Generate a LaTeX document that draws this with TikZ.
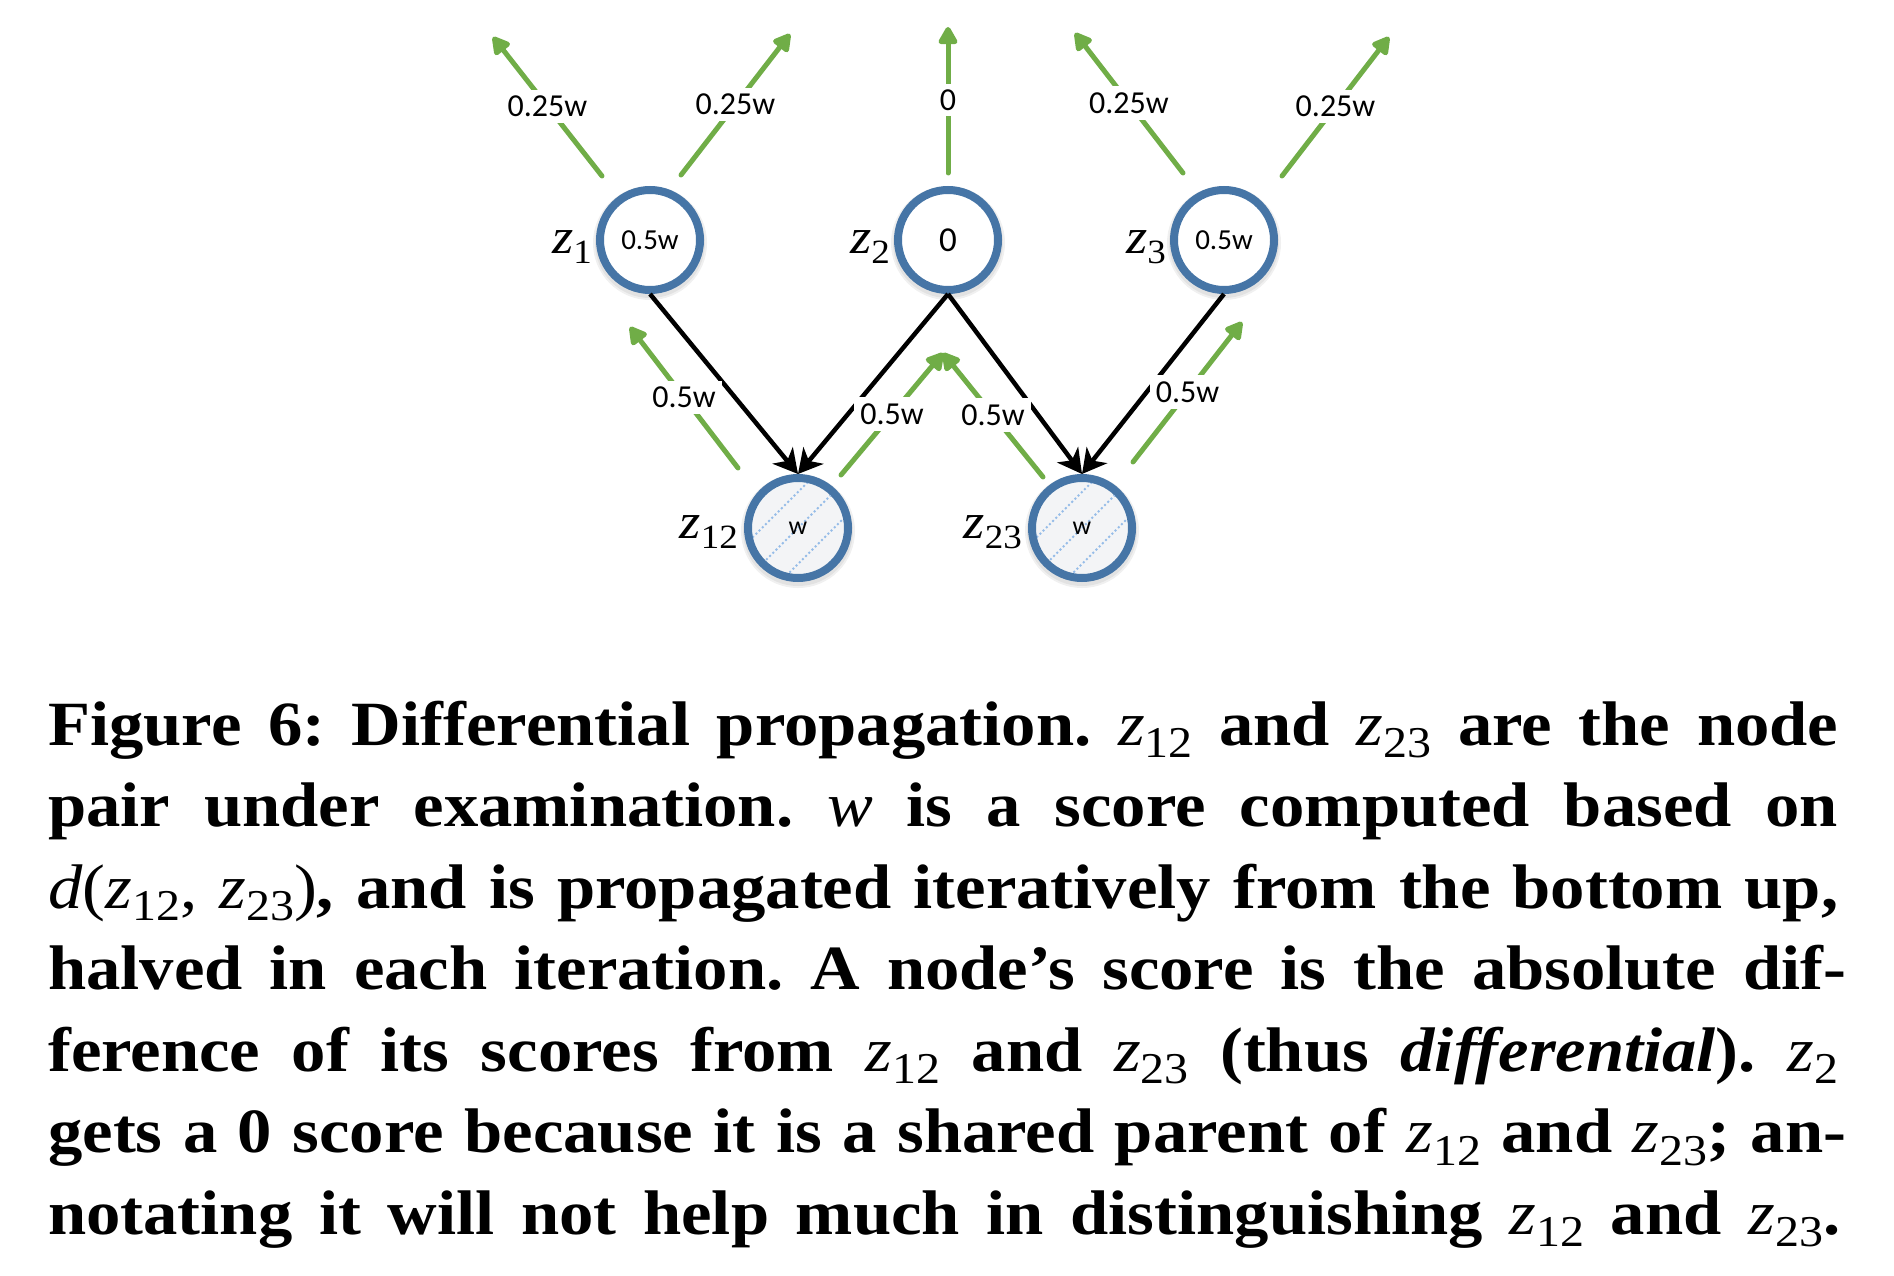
\documentclass[tikz,border=0pt]{standalone}
\usepackage{fontspec}
\setmainfont{Liberation Serif}[FakeStretch=1.09]
\newfontfamily\carlito{Carlito}
\usetikzlibrary{arrows.meta,calc}
\definecolor{nblue}{RGB}{70,117,166}
\definecolor{agreen}{RGB}{112,173,71}
\definecolor{hatchblue}{RGB}{150,188,232}
\definecolor{hfill}{RGB}{243,244,246}
\frenchspacing
\newcommand\zl[1]{\itshape z\raisebox{-10pt}{\upshape\fontsize{34}{34}\selectfont #1}}
\newcommand\cz[1]{{\mdseries\itshape z}\raisebox{-0.2em}{\mdseries\upshape\fontsize{44}{44}\selectfont #1}}
\newcommand\mi[1]{{\mdseries\itshape #1}}
\newcommand\mr[1]{{\mdseries #1}}
\begin{document}
\begin{tikzpicture}[x=1pt,y=-1pt,
  cnode/.style={circle,draw=nblue,line width=8pt,minimum size=100pt,inner sep=0pt,fill=white,
    preaction={draw=black,draw opacity=0.06,line width=14pt,transform canvas={yshift=-3pt}},
    preaction={draw=black,draw opacity=0.06,line width=10pt,transform canvas={yshift=-3pt}},
    font={\carlito\fontsize{29}{29}\selectfont}},
  hnode/.style={cnode,fill=hfill,font={\carlito\fontsize{26}{26}\selectfont}},
  zero/.style={font={\carlito\fontsize{35}{35}\selectfont}},
  zlabel/.style={inner sep=0pt,font={\fontsize{50}{50}\selectfont}},
  parent/.style={line width=4.5pt,-{Stealth[length=24pt,width=26pt,inset=7pt]}},
  prop/.style={agreen,line width=5pt,line cap=round,-{Triangle[length=20pt,width=21pt,round]}},
  wlbl/.style={fill=white,text=black,inner sep=6pt,font={\carlito\fontsize{32}{32}\selectfont}},
  capline/.style={inner sep=0pt,anchor=base west,font={\bfseries\fontsize{63}{81}\selectfont}},
]
\useasboundingbox (0,0) rectangle (1894,1276);

% nodes
\node[cnode] (z1) at (650,240) {0.5w};
\node[cnode,zero] (z2) at (948,240) {0};
\node[cnode] (z3) at (1224,240) {0.5w};
\node[hnode] (z12) at (798,528) {};
\node[hnode] (z23) at (1082,528) {};

% hatching of the examined pair
\foreach \n in {z12,z23}{
  \begin{scope}
    \clip (\n) circle (46);
    \foreach \c in {-108,-72,...,108}
      \draw[hatchblue,line width=2pt,dash pattern=on 2pt off 2.5pt]
        ($(\n)+(-70+\c,70)$) -- ($(\n)+(70+\c,-70)$);
  \end{scope}
  \node[inner sep=0pt,font={\carlito\fontsize{26}{26}\selectfont}] (\n w) at (\n) {w};
}

% node names
\node[zlabel,anchor=base east] (l1) at ($(z1.west)+(-4,13)$) {\zl{1}};
\node[zlabel,anchor=base east] (l2) at ($(z2.west)+(-4,13)$) {\zl{2}};
\node[zlabel,anchor=base east] (l3) at ($(z3.west)+(-4,13)$) {\zl{3}};
\node[zlabel,anchor=base east] (l12) at ($(z12.west)+(-6,10)$) {\zl{12}};
\node[zlabel,anchor=base east] (l23) at ($(z23.west)+(-6,10)$) {\zl{23}};

% parent links
\draw[parent] (z1.south) -- (z12.north);
\draw[parent] (z2.south) -- (z12.north);
\draw[parent] (z2.south) -- (z23.north);
\draw[parent] (z3.south) -- (z23.north);

% propagation arrows (ends)
\coordinate (p1s) at (602,176);  \coordinate (p1t) at (493,37);
\coordinate (p2s) at (681,175);  \coordinate (p2t) at (790,34);
\coordinate (p3s) at (948,173);  \coordinate (p3t) at (948,27);
\coordinate (p4s) at (1183,173); \coordinate (p4t) at (1075,33);
\coordinate (p5s) at (1282,176); \coordinate (p5t) at (1389,37);
\coordinate (q1s) at (738,468);  \coordinate (q1t) at (630,327);
\coordinate (q2s) at (841,475);  \coordinate (q2t) at (943,353);
\coordinate (q3s) at (1043,477); \coordinate (q3t) at (943,353);
\coordinate (q4s) at (1133,462); \coordinate (q4t) at (1242,322);

\draw[prop] (p1s) -- node[wlbl] (w1) {0.25w} (p1t);
\draw[prop] (p2s) -- node[wlbl] (w2) {0.25w} (p2t);
\draw[prop] (p3s) -- node[wlbl] (w3) {0} (p3t);
\draw[prop] (p4s) -- node[wlbl] (w4) {0.25w} (p4t);
\draw[prop] (p5s) -- node[wlbl] (w5) {0.25w} (p5t);
\draw[prop] (q1s) -- node[wlbl] (v1) {0.5w} (q1t);
\draw[prop] (q2s) -- node[wlbl] (v2) {0.5w} (q2t);
\draw[prop] (q3s) -- node[wlbl] (v3) {0.5w} (q3t);
\draw[prop] (q4s) -- node[wlbl] (v4) {0.5w} (q4t);

% caption
\node[capline] (c1) at (48,745) {\makebox[1790pt][s]{Figure 6: Differential propagation. \cz{12} and \cz{23} are the node}};
\node[capline] (c2) at (48,826.5) {\makebox[1790pt][s]{pair under examination. \mi{w} is a score computed based on}};
\node[capline] (c3) at (48,908) {\makebox[1790pt][s]{\mi{d}\mr{(}\cz{12}\mr{,} \cz{23}\mr{)}, and is propagated iteratively from the bottom up,}};
\node[capline] (c4) at (48,989.5) {\makebox[1798pt][s]{halved in each iteration. A node’s score is the absolute dif-}};
\node[capline] (c5) at (48,1071) {\makebox[1790pt][s]{ference of its scores from \cz{12} and \cz{23} (thus \textit{differential}). \cz{2}}};
\node[capline] (c6) at (48,1152.5) {\makebox[1798pt][s]{gets a 0 score because it is a shared parent of \cz{12} and \cz{23}; an-}};
\node[capline] (c7) at (48,1234) {\makebox[1792pt][s]{notating it will not help much in distinguishing \cz{12} and \cz{23}.}};
\end{tikzpicture}
\end{document}
